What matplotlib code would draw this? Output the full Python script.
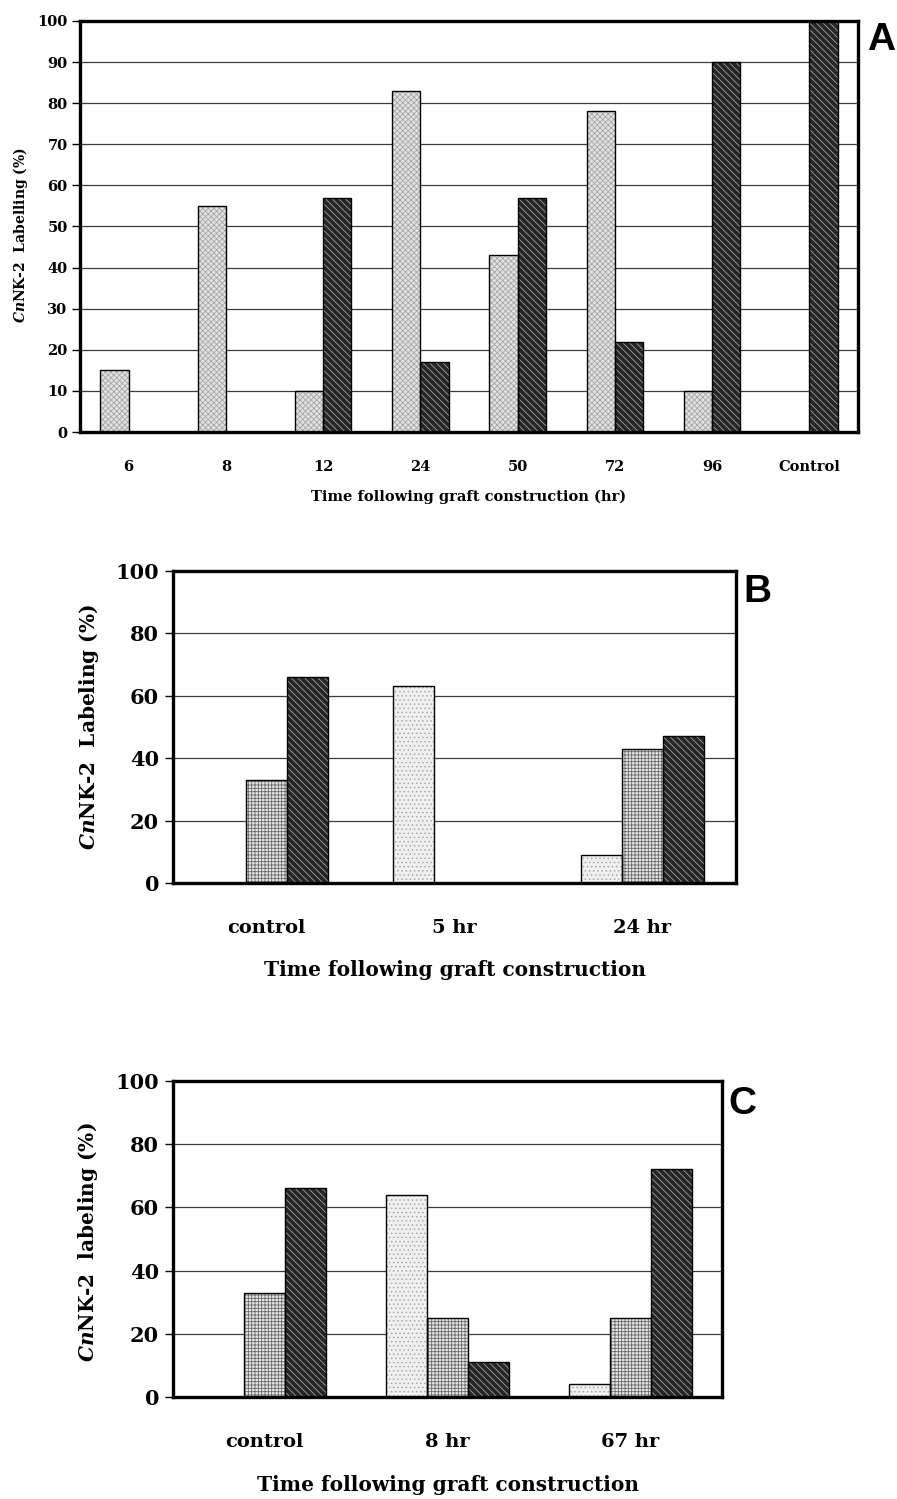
import numpy as np
import matplotlib
matplotlib.use("Agg")
import matplotlib.pyplot as plt

plt.rcParams["mathtext.fontset"] = "custom"
plt.rcParams["mathtext.it"] = "DejaVu Serif:italic:bold"
plt.rcParams["mathtext.rm"] = "DejaVu Serif:bold"
plt.rcParams["mathtext.bf"] = "DejaVu Serif:bold"
plt.rcParams["hatch.linewidth"] = 0.6

# ---- Panel A data ----
cats_a = ["6", "8", "12", "24", "50", "72", "96", "Control"]
light_a = [15, 55, 10, 83, 43, 78, 10, 0]
dark_a = [0, 0, 57, 17, 57, 22, 90, 100]

# ---- Panel B data ----
cats_b = ["control", "5 hr", "24 hr"]
light_b = [0, 63, 9]
medium_b = [33, 0, 43]
dark_b = [66, 0, 47]

# ---- Panel C data ----
cats_c = ["control", "8 hr", "67 hr"]
light_c = [0, 64, 4]
medium_c = [33, 25, 25]
dark_c = [66, 11, 72]

SERIF = "DejaVu Serif"

style_light_a = dict(face="#e2e2e2", hatch="xxxxxx", hc="#a6a6a6")
style_light = dict(face="#f0f0f0", hatch="....", hc="#a8a8a8")
style_medium = dict(face="#e6e6e6", hatch="+++++", hc="#6a6a6a")
style_dark = dict(face="#262626", hatch="\\\\\\\\\\", hc="#a0a0a0")


def draw_bars(ax, cats, series, styles, width):
    x = np.arange(len(cats))
    n = len(series)
    for i, (vals, st) in enumerate(zip(series, styles)):
        pos = x + (i - (n - 1) / 2) * width
        ax.bar(pos, vals, width, color=st["face"], hatch=st["hatch"],
               edgecolor=st["hc"], linewidth=0, zorder=2)
        ax.bar(pos, vals, width, fill=False, edgecolor="black",
               linewidth=1.0, zorder=3)
    ax.set_xlim(-0.5, len(cats) - 0.5)
    ax.set_xticks(x)
    ax.set_xticklabels(cats)
    ax.set_ylim(0, 100)
    ax.yaxis.grid(True, color="#3c3c3c", linewidth=0.9)
    ax.set_axisbelow(True)
    for s in ax.spines.values():
        s.set_linewidth(2.4)
        s.set_color("black")


fig = plt.figure(figsize=(8.97, 14.99), dpi=100)
H = 1499.0
W = 897.0


def add_axes(left, right, top, bottom):
    return fig.add_axes([left / W, 1 - bottom / H, (right - left) / W, (bottom - top) / H])


# Panel A
ax_a = add_axes(80, 858, 21, 432)
draw_bars(ax_a, cats_a, [light_a, dark_a], [style_light_a, style_dark], 0.29)
ax_a.set_yticks(np.arange(0, 101, 10))
ax_a.tick_params(axis="y", length=6, width=1, pad=3, labelsize=10.5)
ax_a.tick_params(axis="x", length=0, pad=20, labelsize=10.5)
for t in ax_a.get_xticklabels() + ax_a.get_yticklabels():
    t.set_fontfamily(SERIF)
    t.set_fontweight("bold")
ax_a.set_xlabel("Time following graft construction (hr)", fontfamily=SERIF,
                fontsize=10.5, fontweight="bold")
ax_a.xaxis.set_label_coords(0.5, -0.158)
ax_a.xaxis.label.set_va("center")
ax_a.set_ylabel(r"$\mathit{Cn}$NK-2  Labelling (%)", fontfamily=SERIF,
                fontsize=10, fontweight="bold")
ax_a.yaxis.set_label_coords(-0.077, 0.48)
ax_a.yaxis.label.set_va("center")
fig.text(881 / W, 1 - 40 / H, "A", fontfamily="Liberation Sans", fontweight="bold",
         fontsize=28, ha="center", va="center")

# Panel B
ax_b = add_axes(173, 736, 571, 883)
draw_bars(ax_b, cats_b, [light_b, medium_b, dark_b],
          [style_light, style_medium, style_dark], 0.218)
ax_b.set_yticks(np.arange(0, 101, 20))
ax_b.tick_params(axis="y", length=6, width=1, pad=4, labelsize=15)
ax_b.tick_params(axis="x", length=0, pad=26, labelsize=14)
for t in ax_b.get_xticklabels() + ax_b.get_yticklabels():
    t.set_fontfamily(SERIF)
    t.set_fontweight("bold")
ax_b.set_xlabel("Time following graft construction", fontfamily=SERIF,
                fontsize=14.5, fontweight="bold")
ax_b.xaxis.set_label_coords(0.5, -0.28)
ax_b.xaxis.label.set_va("center")
ax_b.set_ylabel(r"$\mathit{Cn}$NK-2  Labeling (%)", fontfamily=SERIF,
                fontsize=14.5, fontweight="bold")
ax_b.yaxis.set_label_coords(-0.15, 0.5)
ax_b.yaxis.label.set_va("center")
fig.text(757 / W, 1 - 592 / H, "B", fontfamily="Liberation Sans", fontweight="bold",
         fontsize=28, ha="center", va="center")

# Panel C
ax_c = add_axes(173, 722, 1081, 1397)
draw_bars(ax_c, cats_c, [light_c, medium_c, dark_c],
          [style_light, style_medium, style_dark], 0.224)
ax_c.set_yticks(np.arange(0, 101, 20))
ax_c.tick_params(axis="y", length=6, width=1, pad=4, labelsize=15)
ax_c.tick_params(axis="x", length=0, pad=26, labelsize=14)
for t in ax_c.get_xticklabels() + ax_c.get_yticklabels():
    t.set_fontfamily(SERIF)
    t.set_fontweight("bold")
ax_c.set_xlabel("Time following graft construction", fontfamily=SERIF,
                fontsize=14.5, fontweight="bold")
ax_c.xaxis.set_label_coords(0.5, -0.278)
ax_c.xaxis.label.set_va("center")
ax_c.set_ylabel(r"$\mathit{Cn}$NK-2  labeling (%)", fontfamily=SERIF,
                fontsize=14.5, fontweight="bold")
ax_c.yaxis.set_label_coords(-0.155, 0.49)
ax_c.yaxis.label.set_va("center")
fig.text(742 / W, 1 - 1104 / H, "C", fontfamily="Liberation Sans", fontweight="bold",
         fontsize=28, ha="center", va="center")

fig.savefig("out.png", dpi=100, facecolor="white")
